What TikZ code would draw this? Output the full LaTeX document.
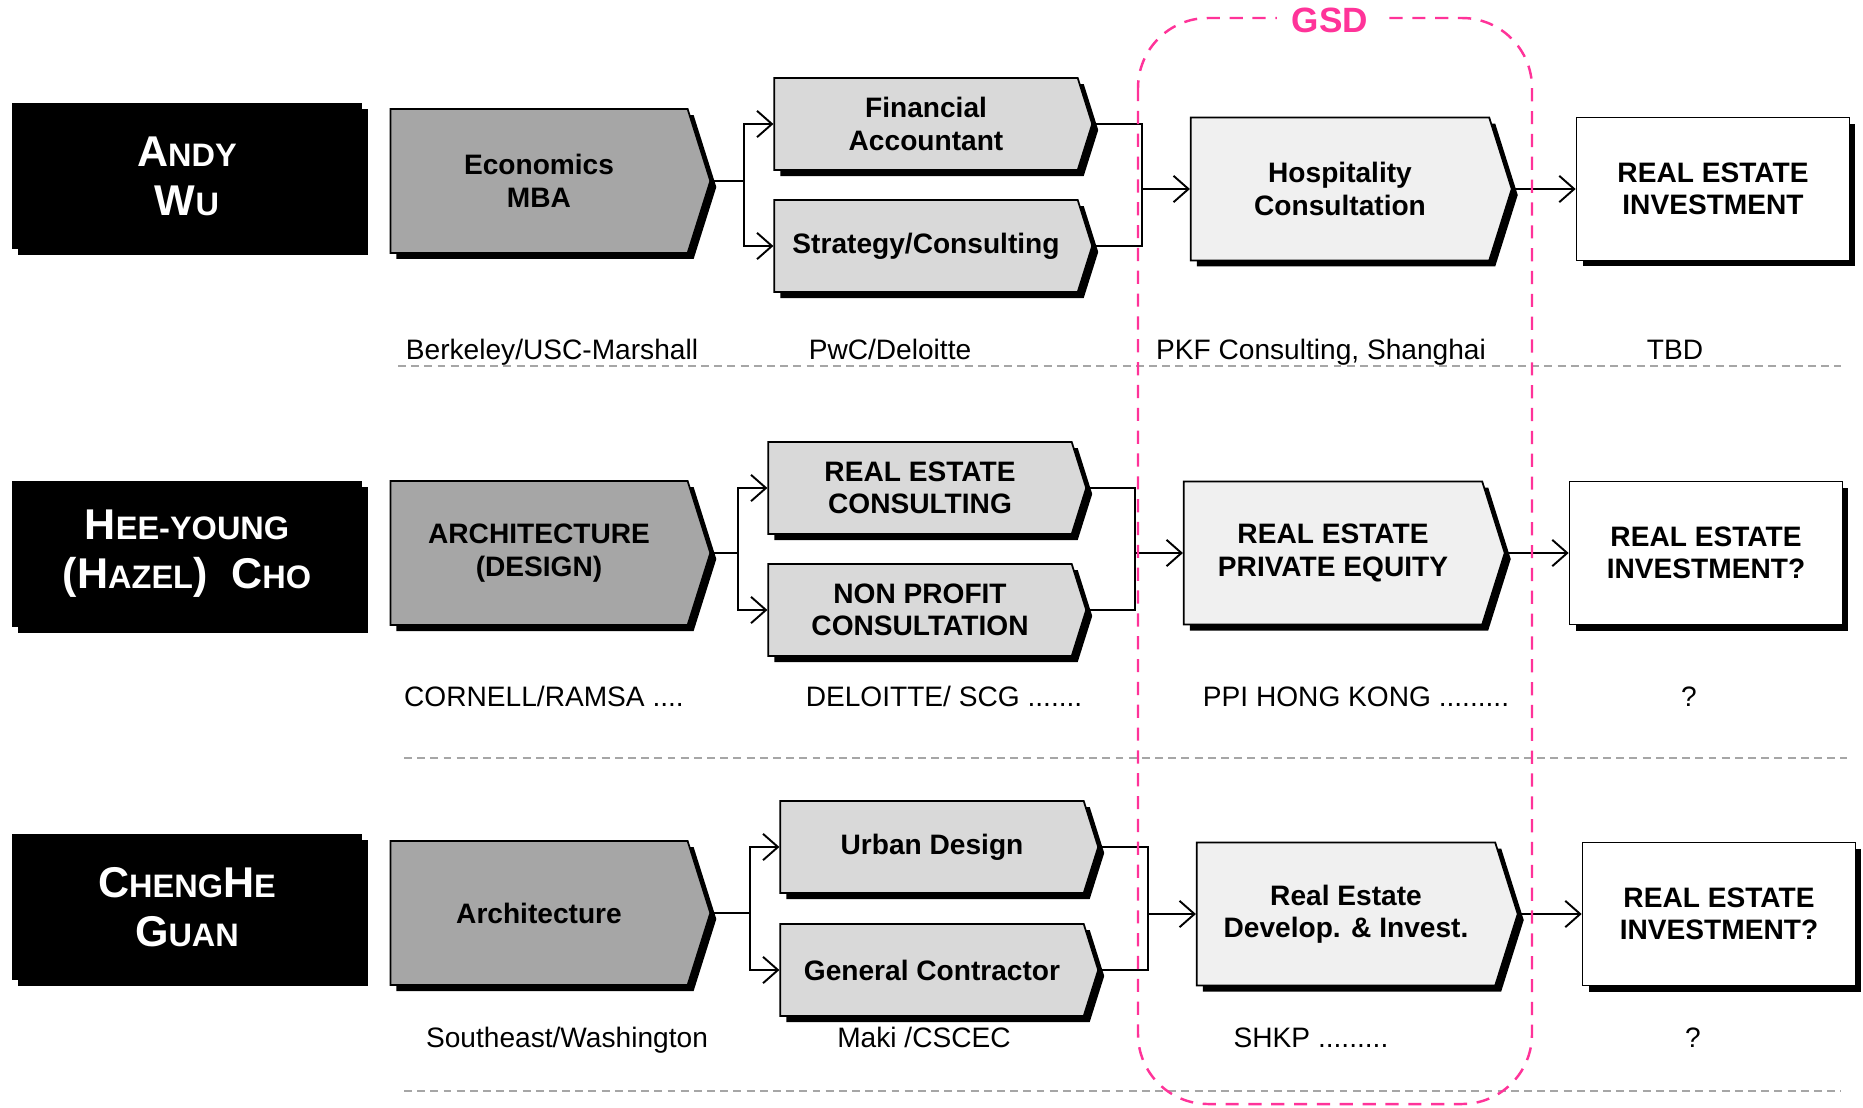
\documentclass[tikz,border=0pt]{standalone}
\usepackage{fontspec}
\setmainfont{Liberation Sans}
\usepackage{xcolor}
\usepackage{tikz}
\usetikzlibrary{shapes.symbols,shadows,arrows.meta}

\definecolor{gsdpink}{HTML}{FF3399}
\definecolor{sepgray}{HTML}{A6A6A6}
\definecolor{degfill}{HTML}{A6A6A6}
\definecolor{jobfill}{HTML}{D9D9D9}
\definecolor{gsdfill}{HTML}{F0F0F0}

% big initial + small capitals for the names
\newcommand{\nm}[2]{{\fontsize{24.5}{28}\selectfont #1}{\fontsize{18.5}{28}\selectfont #2}}

\tikzset{
  boxshadow/.style={drop shadow={shadow xshift=0.12cm,shadow yshift=-0.12cm,fill=black,opacity=1}},
  namebox/.style={fill=black,text=white,minimum width=7cm,minimum height=2.92cm,align=center,
    font=\bfseries\fontsize{24.5}{28}\selectfont,boxshadow},
  chev/.style={signal,signal to=east,signal from=nowhere,signal pointer angle=145,draw,line width=1pt,
    align=center,inner sep=0pt,font=\bfseries\fontsize{16}{18.5}\selectfont,boxshadow},
  degree/.style={chev,fill=degfill,minimum width=6.4cm,minimum height=2.88cm},
  job/.style={chev,fill=jobfill,minimum width=6.36cm,minimum height=1.84cm},
  gsdjob/.style={chev,fill=gsdfill,minimum width=6.42cm,minimum height=2.86cm},
  goal/.style={draw,line width=1pt,fill=white,minimum width=5.46cm,minimum height=2.86cm,align=center,
    font=\bfseries\fontsize{16}{18.5}\selectfont,boxshadow},
  firm/.style={anchor=base,font=\fontsize{16}{19}\selectfont},
  sep/.style={sepgray,line width=1pt,dash pattern=on 4.5pt off 3pt},
  link/.style={line width=1.1pt},
  arr/.style={link,-{Straight Barb[length=8.5pt,width=15pt]}}
}

\begin{document}
\begin{tikzpicture}[x=0.02cm,y=-0.02cm]
  \useasboundingbox (0,0) rectangle (1863,1107);
  % Row 1: Andy Wu
  \begin{scope}
    \node[namebox] (andy) at (187,176) {\nm{A}{NDY}\\\nm{W}{U}};
    \node[degree] (econ) at (539,181) {Economics\\MBA};
    \node[job] (finacct) at (926,124) {Financial\\Accountant};
    \node[job] (strat) at (926,246) {Strategy/Consulting};
    \node[gsdjob] (hosp) at (1340,189) {Hospitality\\Consultation};
    \node[goal] (reinv1) at (1713,189) {REAL ESTATE\\INVESTMENT};
    \coordinate (ja1) at ([xshift=-0.58cm]finacct.west |- econ.east);
    \coordinate (jb1) at ([xshift=-0.96cm]hosp.west);
    \draw[link] (econ.east) -- (ja1);
    \draw[arr] (ja1) |- (finacct.west);
    \draw[arr] (ja1) |- (strat.west);
    \draw[link] (finacct.east) -| (jb1 |- strat.east) -- (strat.east);
    \draw[arr] (jb1) -- (hosp.west);
    \draw[arr] (hosp.east) -- (hosp.east -| reinv1.west);
    \node[firm] (school1) at (552,359) {Berkeley/USC-Marshall};
    \node[firm] (work1) at (890,359) {PwC/Deloitte};
    \node[firm] (gsdwork1) at (1321,359) {PKF Consulting, Shanghai};
    \node[firm] (next1) at (1675,359) {TBD};
    \draw[sep] (398,366) -- (1841,366);
  \end{scope}
  % Row 2: Hazel Cho
  \begin{scope}
    \node[namebox] (hazel) at (187,554) {\nm{H}{EE-YOUNG}\\\nm{(H}{AZEL}\nm{)}{}~~\nm{C}{HO}};
    \node[degree] (archd) at (539,553) {ARCHITECTURE\\(DESIGN)};
    \node[job] (recons) at (920,488) {REAL ESTATE\\CONSULTING};
    \node[job] (nonprof) at (920,610) {NON PROFIT\\CONSULTATION};
    \node[gsdjob] (repe) at (1333,553) {REAL ESTATE\\PRIVATE EQUITY};
    \node[goal] (reinv2) at (1706,553) {REAL ESTATE\\INVESTMENT?};
    \coordinate (ja2) at ([xshift=-0.58cm]recons.west |- archd.east);
    \coordinate (jb2) at ([xshift=-0.96cm]repe.west);
    \draw[link] (archd.east) -- (ja2);
    \draw[arr] (ja2) |- (recons.west);
    \draw[arr] (ja2) |- (nonprof.west);
    \draw[link] (recons.east) -| (jb2 |- nonprof.east) -- (nonprof.east);
    \draw[arr] (jb2) -- (repe.west);
    \draw[arr] (repe.east) -- (repe.east -| reinv2.west);
    \node[firm] (school2) at (544,706) {CORNELL/RAMSA ....};
    \node[firm] (work2) at (944,706) {DELOITTE/ SCG .......};
    \node[firm] (gsdwork2) at (1356,706) {PPI HONG KONG .........};
    \node[firm] (next2) at (1689,706) {?};
    \draw[sep] (404,758) -- (1847,758);
  \end{scope}
  % Row 3: ChengHe Guan
  \begin{scope}
    \node[namebox] (chenghe) at (187,907) {\nm{C}{HENG}\nm{H}{E}\\\nm{G}{UAN}};
    \node[degree] (arch) at (539,913) {Architecture};
    \node[job] (urban) at (932,847) {Urban Design};
    \node[job] (contractor) at (932,970) {General Contractor};
    \node[gsdjob] (redev) at (1346,914) {Real Estate\\Develop. \& Invest.};
    \node[goal] (reinv3) at (1719,914) {REAL ESTATE\\INVESTMENT?};
    \coordinate (ja3) at ([xshift=-0.58cm]urban.west |- arch.east);
    \coordinate (jb3) at ([xshift=-0.96cm]redev.west);
    \draw[link] (arch.east) -- (ja3);
    \draw[arr] (ja3) |- (urban.west);
    \draw[arr] (ja3) |- (contractor.west);
    \draw[link] (urban.east) -| (jb3 |- contractor.east) -- (contractor.east);
    \draw[arr] (jb3) -- (redev.west);
    \draw[arr] (redev.east) -- (redev.east -| reinv3.west);
    \node[firm] (school3) at (567,1047) {Southeast/Washington};
    \node[firm] (work3) at (924,1047) {Maki /CSCEC};
    \node[firm] (gsdwork3) at (1311,1047) {SHKP .........};
    \node[firm] (next3) at (1693,1047) {?};
    \draw[sep] (404,1091) -- (1841,1091);
  \end{scope}
  % GSD frame
  \draw[gsdpink,line width=1.4pt,dash pattern=on 7.5pt off 5.5pt,rounded corners=1.4cm]
    (1138,18) rectangle (1532,1104);
  \node[fill=white,text=gsdpink,inner xsep=0.3cm,inner ysep=0pt,font=\bfseries\fontsize{20}{22}\selectfont]
    (gsd) at (1330,20) {GSD};
\end{tikzpicture}
\end{document}
